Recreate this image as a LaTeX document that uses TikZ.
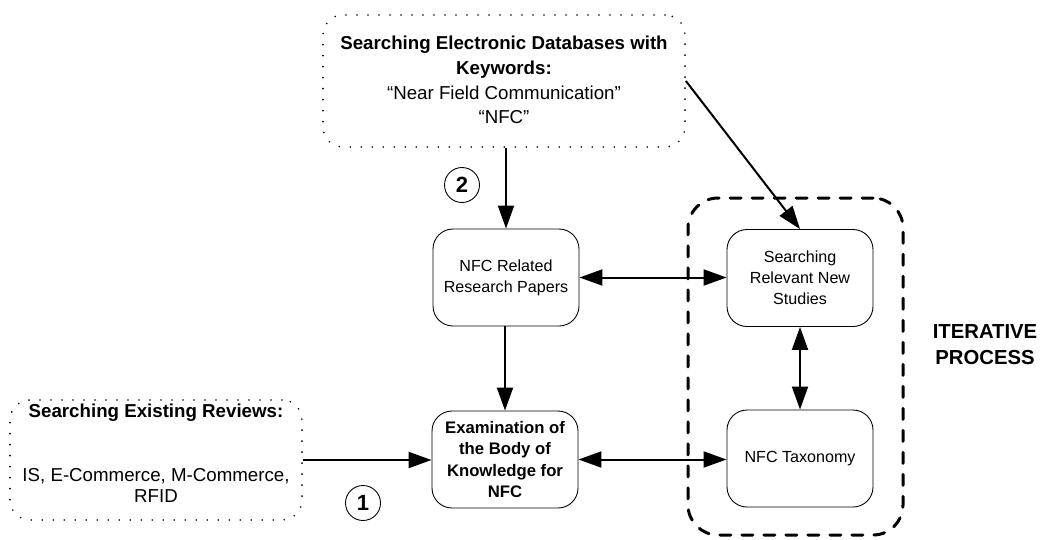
\documentclass[tikz,border=0pt]{standalone}
\usepackage{fontspec}
\setmainfont{Liberation Sans}
\usetikzlibrary{arrows.meta}
\tikzset{
  stagebox/.style={draw=black, line width=0.9pt, rounded corners=20pt,
    minimum width=146pt, minimum height=97pt, align=center, inner sep=0pt,
    font=\fontsize{16.1}{21}\selectfont},
  dotbox/.style={draw=black, line width=1.8pt, line cap=round,
    dash pattern=on 0pt off 11pt, rounded corners=20pt, inner sep=0pt},
  flow/.style={line width=2pt, -{Triangle[length=23pt,width=16pt]}},
  biflow/.style={line width=2pt, {Triangle[length=23pt,width=16pt]}-{Triangle[length=23pt,width=16pt]}},
  stepnum/.style={draw=black, line width=0.9pt, circle, minimum size=35pt,
    inner sep=0pt, font=\fontsize{22}{22}\selectfont\bfseries},
  big/.style={font=\fontsize{18.7}{24.7}\selectfont, align=center, inner sep=0pt}
}
\begin{document}
\begin{tikzpicture}[x=1pt, y=-1pt]
\useasboundingbox (0,0) rectangle (1041,539);

% search sources
\node[dotbox, minimum width=362pt, minimum height=132pt] (db) at (504,81) {};
\node[big] (dbtext) at (504,80)
  {\textbf{Searching Electronic Databases with}\\
   \textbf{Keywords:}\\
   “Near Field Communication”\\
   “NFC”};

\node[dotbox, minimum width=292pt, minimum height=120pt] (rev) at (156,460) {};
\node[big, font=\fontsize{18.7}{24.7}\selectfont\bfseries] (revtitle) at (156,413)
  {Searching Existing Reviews:};
\node[big, font=\fontsize{18.7}{21}\selectfont] (revtext) at (156,485)
  {IS, E-Commerce, M-Commerce,\\RFID};

% main stages
\node[stagebox] (papers) at (506,277.5) {NFC Related\\Research Papers};
\node[stagebox, font=\fontsize{16.7}{21.5}\selectfont\bfseries] (exam) at (505,459.5)
  {Examination of\\the Body of\\Knowledge for\\NFC};
\node[stagebox] (search) at (800,278) {Searching\\Relevant New\\Studies};
\node[stagebox] (tax) at (800,458.5) {NFC Taxonomy};

% iterative loop frame
\node[draw=black, line width=3pt, line cap=round, dash pattern=on 11pt off 11pt,
  rounded corners=30pt, minimum width=215pt, minimum height=337pt, inner sep=0pt]
  (loop) at (795.5,366.5) {};
\node[font=\fontsize{20.3}{26}\selectfont\bfseries, align=center, inner sep=0pt]
  (looplabel) at (985,345) {ITERATIVE\\PROCESS};

% step markers
\node[stepnum] (s2) at (462,185) {2};
\node[stepnum] (s1) at (363,503) {1};

% connectors
\draw[flow] (db.south -| papers.north) -- (papers.north);
\draw[flow] (db.east) -- (search.north);
\draw[flow] (papers.south -| exam.north) -- (exam.north);
\draw[flow] (rev.east) -- (rev.east -| exam.west);
\draw[biflow] (papers.east) -- (papers.east -| search.west);
\draw[biflow] (exam.east) -- (exam.east -| tax.west);
\draw[biflow] (search.south) -- (tax.north);
\end{tikzpicture}
\end{document}
